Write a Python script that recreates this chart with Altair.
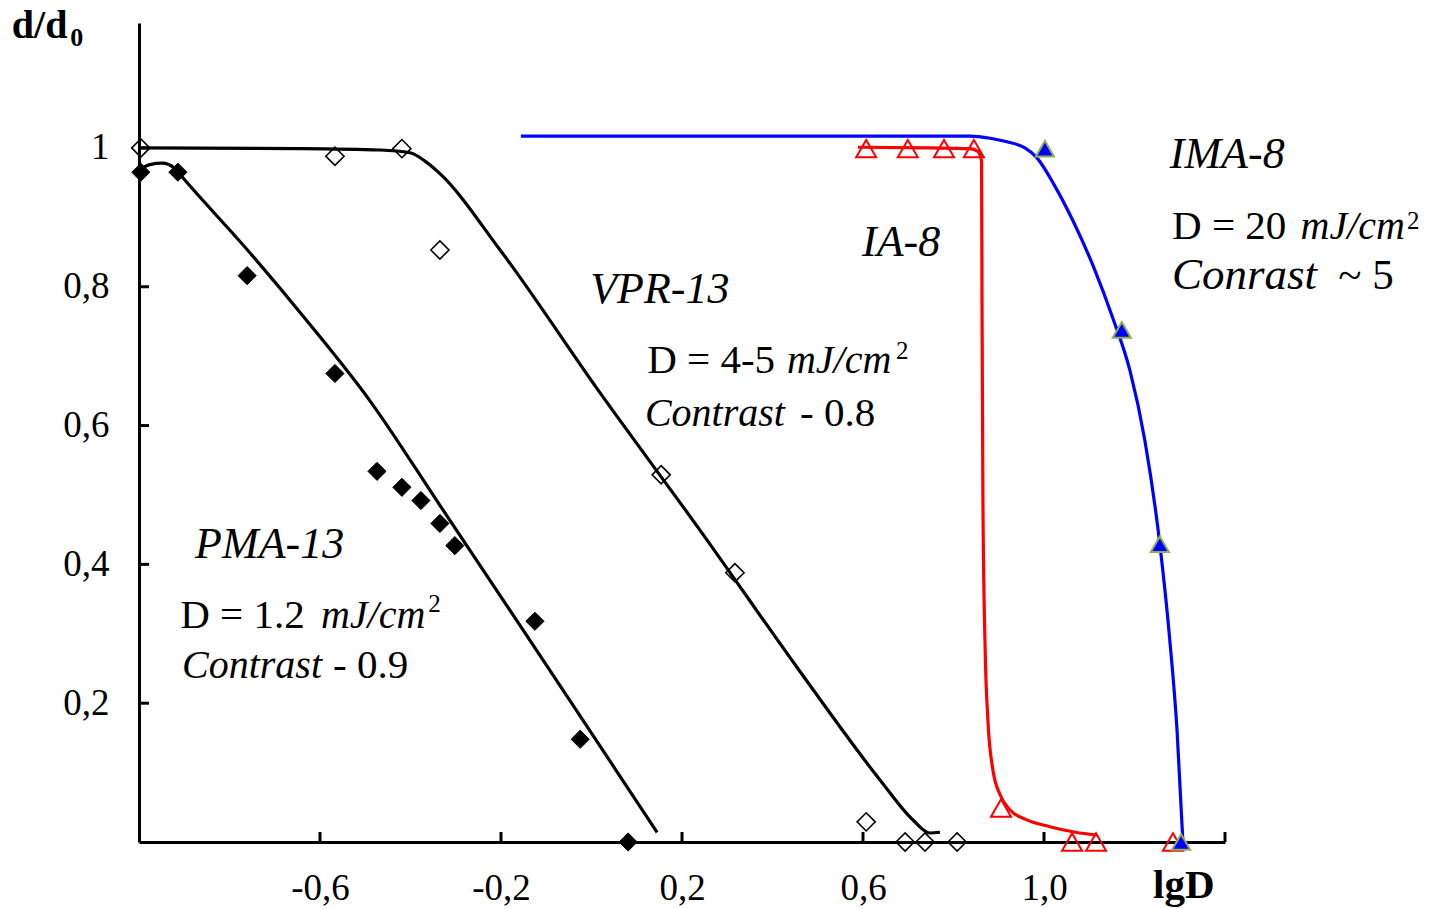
import altair as alt
import pandas as pd

# ---------------- data ----------------
# PMA-13 : filled diamonds
pma_x = [-0.996, -0.914, -0.761, -0.567, -0.474, -0.419, -0.377, -0.335, -0.302, -0.125, -0.025, 0.081]
pma_y = [0.965, 0.965, 0.816, 0.675, 0.534, 0.511, 0.492, 0.459, 0.427, 0.318, 0.148, 0.0]
pma_fit_x = [-0.996, -0.976, -0.949, -0.920, -0.903, -0.755, -0.629, -0.490, -0.335, -0.158, 0.019, 0.145]
pma_fit_y = [0.970, 0.976, 0.978, 0.970, 0.957, 0.849, 0.751, 0.636, 0.485, 0.312, 0.138, 0.014]

# VPR-13 : open diamonds
vpr_x = [-0.996, -0.567, -0.419, -0.335, 0.154, 0.317, 0.607, 0.693, 0.737, 0.808]
vpr_y = [1.0, 0.988, 0.999, 0.853, 0.529, 0.388, 0.029, 0.0, 0.0, 0.0]
vpr_fit_x = [-0.996, -0.644, -0.467, -0.401, -0.368, -0.335, -0.202, 0.019, 0.240, 0.456, 0.638, 0.710, 0.748, 0.770]
vpr_fit_y = [1.0, 0.999, 0.997, 0.993, 0.981, 0.963, 0.853, 0.647, 0.449, 0.250, 0.089, 0.032, 0.013, 0.014]

# IA-8 : open red triangles
ia_x = [0.607, 0.699, 0.779, 0.845, 0.905, 1.062, 1.115, 1.285]
ia_y = [0.999, 0.999, 0.999, 0.999, 0.049, 0.0, 0.0, 0.0]
ia_fit_x = [0.589, 0.748, 0.836, 0.854, 0.862, 0.863, 0.865, 0.870, 0.876, 0.887, 0.903, 0.925, 0.958, 1.013, 1.069, 1.117]
ia_fit_y = [1.001, 1.0, 0.999, 0.995, 0.981, 0.780, 0.492, 0.276, 0.176, 0.104, 0.068, 0.046, 0.033, 0.022, 0.014, 0.010]

# IMA-8 : filled blue triangles
ima_x = [1.002, 1.172, 1.256, 1.303]
ima_y = [0.999, 0.738, 0.429, 0.0]
ima_fit_x = [-0.156, 0.682, 0.836, 0.881, 0.918, 0.958, 0.984, 1.024, 1.064, 1.113, 1.152, 1.190, 1.223, 1.256, 1.278, 1.294, 1.307]
ima_fit_y = [1.017, 1.017, 1.017, 1.014, 1.009, 1.0, 0.986, 0.945, 0.895, 0.823, 0.755, 0.679, 0.578, 0.429, 0.291, 0.161, 0.0]

# axis ticks
x_label_vals = [-0.6, -0.2, 0.2, 0.6, 1.0]
x_tick_vals = [-0.6, -0.2, 0.2, 0.6, 1.0, 1.4]
y_tick_vals = [0.2, 0.4, 0.6, 0.8, 1.0]

# annotations: text, x, y (data units), kind
ann_text = ["PMA-13", "D = 1.2", "mJ/cm", "2", "Contrast", "- 0.9",
            "VPR-13", "D = 4-5", "mJ/cm", "2", "Contrast", "- 0.8",
            "IA-8",
            "IMA-8", "D = 20", "mJ/cm", "2", "Conrast", "~ 5",
            "lgD", "d/d", "0"]
ann_x = [-0.876, -0.909, -0.598, -0.361, -0.905, -0.571,
         -0.003, 0.123, 0.432, 0.673, 0.118, 0.461,
         0.598,
         1.278, 1.283, 1.567, 1.802, 1.283, 1.650,
         1.241, -1.281, -1.152]
ann_y = [0.409, 0.309, 0.309, 0.331, 0.236, 0.236,
         0.776, 0.676, 0.676, 0.696, 0.600, 0.600,
         0.845,
         0.971, 0.869, 0.869, 0.883, 0.797, 0.797,
         -0.081, 1.159, 1.147]
ann_kind = ["title", "normal", "italic", "sup", "italic", "normal",
            "title", "normal", "italic", "sup", "italic", "normal",
            "title",
            "title", "normal", "italic", "sup", "italicL", "normalL",
            "boldL", "bold", "boldsub"]

# ---------------- chart ----------------
FONT = "Liberation Serif"
W, H = 1086, 819
XD = [-1.0, 1.4]
YD = [0.0, 1.18]

x_label_expr = ("(datum.value < 0 ? '-' : '') + "
                "replace(format(abs(datum.value), '.1f'), '.', ',')")
y_label_expr = ("datum.value == 1 ? '1' : "
                "replace(format(datum.value, '.1f'), '.', ',')")

x_axis = alt.Axis(values=x_label_vals, labelExpr=x_label_expr, ticks=False, grid=False,
                  domainColor="black", domainWidth=3, labelFont=FONT, labelFontSize=37,
                  labelColor="black", labelPadding=28, title=None, labelFlush=False)
y_axis = alt.Axis(values=y_tick_vals, labelExpr=y_label_expr, ticks=False, grid=False,
                  domainColor="black", domainWidth=3, labelFont=FONT, labelFontSize=37,
                  labelColor="black", labelPadding=30, title=None, labelFlush=False)


def X(field="x"):
    return alt.X(f"{field}:Q", scale=alt.Scale(domain=XD, nice=False, zero=False), axis=x_axis)


def Y(field="y"):
    return alt.Y(f"{field}:Q", scale=alt.Scale(domain=YD, nice=False, zero=False), axis=y_axis)


def line(xs, ys, color):
    df = pd.DataFrame({"x": xs, "y": ys, "o": range(len(xs))})
    return alt.Chart(df).mark_line(color=color, strokeWidth=3.2, interpolate="monotone").encode(
        x=X(), y=Y(), order="o:Q")


def pts(xs, ys, shape, size, fill, stroke, sw, filled=True):
    df = pd.DataFrame({"x": xs, "y": ys})
    kw = dict(shape=shape, size=size, stroke=stroke, strokeWidth=sw, opacity=1, filled=filled)
    if filled:
        kw["fill"] = fill
    return alt.Chart(df).mark_point(**kw).encode(x=X(), y=Y())


xticks = alt.Chart(pd.DataFrame({"x": x_tick_vals})).mark_rule(color="black", strokeWidth=3).encode(
    x=X(), y=alt.value(H), y2=alt.value(H - 10))
yticks = alt.Chart(pd.DataFrame({"y": y_tick_vals})).mark_rule(color="black", strokeWidth=3).encode(
    y=Y(), x=alt.value(0), x2=alt.value(10))

ann = pd.DataFrame({"t": ann_text, "x": ann_x, "y": ann_y, "k": ann_kind})
styles = {
    "title": dict(fontStyle="italic", fontSize=44),
    "italic": dict(fontStyle="italic", fontSize=40),
    "italicL": dict(fontStyle="italic", fontSize=45),
    "normal": dict(fontSize=41),
    "normalL": dict(fontSize=43),
    "sup": dict(fontSize=25),
    "bold": dict(fontWeight="bold", fontSize=40),
    "boldL": dict(fontWeight="bold", fontSize=41),
    "boldsub": dict(fontWeight="bold", fontSize=26),
}
texts = []
for k, st in styles.items():
    texts.append(
        alt.Chart(ann).transform_filter(alt.datum.k == k).mark_text(
            font=FONT, align="left", baseline="alphabetic", color="black", **st
        ).encode(x=X(), y=Y(), text="t:N")
    )

chart = alt.layer(
    xticks, yticks,
    line(pma_fit_x, pma_fit_y, "black"),
    line(vpr_fit_x, vpr_fit_y, "black"),
    line(ia_fit_x, ia_fit_y, "#ff0000"),
    line(ima_fit_x, ima_fit_y, "#0000ff"),
    pts(pma_x, pma_y, "diamond", 330, "black", "black", 1),
    pts(vpr_x, vpr_y, "diamond", 330, None, "black", 1.6, filled=False),
    pts(ia_x, ia_y, "triangle-up", 400, None, "#ff0000", 2, filled=False),
    pts(ima_x, ima_y, "triangle-up", 330, "#0000ff", "#8fae55", 2),
    *texts,
).properties(
    width=W, height=H,
    autosize=alt.AutoSizeParams(type="none"),
    padding={"left": 139, "top": 23, "right": 209, "bottom": 67},
).configure(background="white", view=alt.ViewConfig(stroke=None))

chart.save("out.html", embed_options={"renderer": "svg", "actions": False})
